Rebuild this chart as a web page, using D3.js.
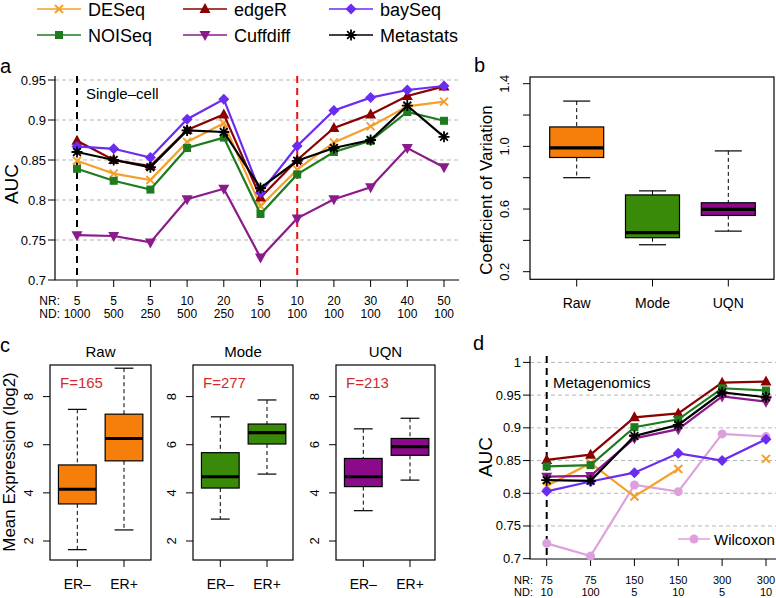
<!DOCTYPE html>
<html><head><meta charset="utf-8">
<script src="https://cdn.jsdelivr.net/npm/d3@7"></script>
<style>body{margin:0;background:#fff}</style>
</head><body><svg id="c" width="776" height="598"></svg>
<script>
// ---------- DATA ----------
const methods = ["DESeq","edgeR","baySeq","NOISeq","Cuffdiff","Metastats"];
const methodColors = ["#F5A02A","#8B0000","#6A2CF0","#1E7B1E","#8B1A8B","#000000"];
const methodShapes = ["cross","triangle","diamond","square","triangleDown","star"];

// panel a
const aNR = ["5","5","5","10","20","5","10","20","30","40","50"];
const aND = ["1000","500","250","500","250","100","100","100","100","100","100"];
const aDESeq    = [0.849,0.833,0.825,0.8725,0.896,0.7925,0.838,0.872,0.892,0.917,0.923];
const aEdgeR    = [0.874,0.850,0.8425,0.8875,0.907,0.803,0.850,0.890,0.907,0.930,0.942];
const aBaySeq   = [0.867,0.864,0.853,0.901,0.926,0.809,0.8675,0.912,0.928,0.9375,0.9425];
const aNOISeq   = [0.839,0.824,0.813,0.865,0.878,0.7825,0.832,0.860,0.874,0.910,0.899];
const aCuffdiff = [0.756,0.755,0.747,0.801,0.814,0.728,0.777,0.801,0.816,0.865,0.841];
const aMetastats= [0.860,0.850,0.841,0.887,0.885,0.815,0.849,0.865,0.875,0.918,0.879];
const aSeries = [aDESeq,aEdgeR,aBaySeq,aNOISeq,aCuffdiff,aMetastats];
const aYTicks = [0.7,0.75,0.8,0.85,0.9,0.95];
const aYLabels = ["0.7","0.75","0.8","0.85","0.9","0.95"];

// panel b  [lower whisker, Q1, median, Q3, upper whisker]
const bGroups = ["Raw","Mode","UQN"];
const bRaw  = [0.80,0.929,0.99,1.124,1.289];
const bMode = [0.372,0.417,0.449,0.690,0.716];
const bUQN  = [0.459,0.559,0.598,0.640,0.971];
const bStats = [bRaw,bMode,bUQN];
const boxColors = ["#F57F0A","#3A8A0A","#8A0A8A"];
const bYTicks = [0.2,0.4,0.6,0.8,1.0,1.2,1.4];
const bYLabels = ["0.2","","0.6","","1.0","","1.4"];

// panel c
const cPanels = ["Raw","Mode","UQN"];
const cF = ["F=165","F=277","F=213"];
const cGroups = ["ER\u2013","ER+"];
const cRawNeg  = [1.64,3.54,4.15,5.16,7.47], cRawPos  = [2.46,5.33,6.26,7.27,9.18];
const cModeNeg = [2.91,4.20,4.67,5.67,7.16], cModePos = [4.78,6.03,6.50,6.86,7.86];
const cUQNNeg  = [3.26,4.26,4.67,5.43,6.66], cUQNPos  = [4.53,5.56,5.92,6.26,7.10];
const cStats = [[cRawNeg,cRawPos],[cModeNeg,cModePos],[cUQNNeg,cUQNPos]];
const cYTicks = [2,4,6,8];

// panel d
const dNR = ["75","75","150","150","300","300"];
const dND = ["10","100","5","10","5","10"];
const dDESeq    = [0.811,0.846,0.795,0.837,null,0.8525];
const dEdgeR    = [0.851,0.859,0.916,0.922,0.969,0.9707];
const dBaySeq   = [0.803,0.818,0.8315,0.861,0.850,0.8826];
const dNOISeq   = [0.841,0.843,0.901,0.913,0.9605,0.957];
const dCuffdiff = [0.8254,0.8265,0.884,0.898,0.948,0.940];
const dMetastats= [0.820,0.819,0.8876,0.9045,0.954,0.9468];
const dWilcoxon = [0.7235,0.704,0.8127,0.8025,0.8907,0.8866];
const dSeries = [dDESeq,dEdgeR,dBaySeq,dNOISeq,dCuffdiff,dMetastats];
const dYTicks = [0.7,0.75,0.8,0.85,0.9,0.95,1.0];
const dYLabels = ["0.7","0.75","0.8","0.85","0.9","0.95","1"];
const wilcoxColor = "#DDA0DD";

// ---------- DRAW ----------
const FONT = "'Liberation Sans', Arial, Helvetica, sans-serif";
const svg = d3.select("#c").attr("font-family", FONT);
svg.append("rect").attr("width",776).attr("height",598).attr("fill","#fff");

function marker(g, shape, x, y, color) {
  const s = 5.5;
  if (shape === "cross") {
    g.append("path").attr("d",`M${x-4},${y-4}L${x+4},${y+4}M${x-4},${y+4}L${x+4},${y-4}`)
      .attr("stroke",color).attr("stroke-width",2).attr("fill","none");
  } else if (shape === "triangle") {
    g.append("path").attr("d",`M${x},${y-s-0.5}L${x+s},${y+4}L${x-s},${y+4}Z`).attr("fill",color);
  } else if (shape === "triangleDown") {
    g.append("path").attr("d",`M${x},${y+s+0.5}L${x+s},${y-4}L${x-s},${y-4}Z`).attr("fill",color);
  } else if (shape === "diamond") {
    g.append("path").attr("d",`M${x},${y-s}L${x+s},${y}L${x},${y+s}L${x-s},${y}Z`).attr("fill",color);
  } else if (shape === "square") {
    g.append("rect").attr("x",x-4).attr("y",y-4).attr("width",8).attr("height",8).attr("fill",color);
  } else if (shape === "star") {
    const r = 5.5, d = r*0.7071;
    g.append("path").attr("d",`M${x-r},${y}L${x+r},${y}M${x},${y-r}L${x},${y+r}M${x-d},${y-d}L${x+d},${y+d}M${x-d},${y+d}L${x+d},${y-d}`)
      .attr("stroke",color).attr("stroke-width",1.8).attr("fill","none");
  } else if (shape === "circle") {
    g.append("circle").attr("cx",x).attr("cy",y).attr("r",4.5).attr("fill",color);
  }
}

// Legend
methods.forEach((m,i) => {
  const col = i % 3, row = Math.floor(i/3);
  const x0 = [37,183,329][col], y0 = [9,35][row];
  const g = svg.append("g");
  g.append("line").attr("x1",x0).attr("x2",x0+44).attr("y1",y0).attr("y2",y0)
    .attr("stroke",methodColors[i]).attr("stroke-width",1.5);
  marker(g, methodShapes[i], x0+22, y0, methodColors[i]);
  g.append("text").attr("x",x0+51).attr("y",y0+7).attr("font-size",18).text(m);
});

function yTicksLeft(g, scale, vals, labels, axisX, fs, rotated, rotX) {
  vals.forEach((v,i) => {
    g.append("line").attr("x1",axisX-7).attr("x2",axisX).attr("y1",scale(v)).attr("y2",scale(v))
      .attr("stroke","#000").attr("stroke-width",1);
    if (!labels[i]) return;
    if (rotated) {
      g.append("text").attr("transform",`translate(${rotX},${scale(v)}) rotate(-90)`)
        .attr("text-anchor","middle").attr("font-size",fs).text(labels[i]);
    } else {
      g.append("text").attr("x",axisX-9).attr("y",scale(v)+4.5).attr("text-anchor","end")
        .attr("font-size",fs).text(labels[i]);
    }
  });
}

const lineW = 2.2;

// ---------- Panel a ----------
{
  const g = svg.append("g");
  const xA = d3.scaleLinear().domain([0,10]).range([77,444]);
  const yA = d3.scaleLinear().domain([0.7,0.95]).range([280,80]);
  aYTicks.slice(1).forEach(v => g.append("line").attr("x1",55).attr("x2",459)
    .attr("y1",yA(v)).attr("y2",yA(v)).attr("stroke","#B5B5B5").attr("stroke-dasharray","4,3"));
  g.append("line").attr("x1",xA(0)).attr("x2",xA(0)).attr("y1",76).attr("y2",280)
    .attr("stroke","#000").attr("stroke-width",2).attr("stroke-dasharray","7,5");
  g.append("line").attr("x1",xA(6)).attr("x2",xA(6)).attr("y1",76).attr("y2",280)
    .attr("stroke","#EE1111").attr("stroke-width",2).attr("stroke-dasharray","7,5");
  g.append("path").attr("d","M55,76V280H459").attr("fill","none").attr("stroke","#000").attr("stroke-width",1.2);
  yTicksLeft(g, yA, aYTicks, aYLabels, 55, 13, false);
  aNR.forEach((t,i) => {
    g.append("line").attr("x1",xA(i)).attr("x2",xA(i)).attr("y1",280).attr("y2",287).attr("stroke","#000");
    g.append("text").attr("x",xA(i)).attr("y",304.5).attr("text-anchor","middle").attr("font-size",12).text(t);
    g.append("text").attr("x",xA(i)).attr("y",317.5).attr("text-anchor","middle").attr("font-size",12).text(aND[i]);
  });
  g.append("text").attr("x",60).attr("y",304.5).attr("text-anchor","end").attr("font-size",12).text("NR:");
  g.append("text").attr("x",60).attr("y",317.5).attr("text-anchor","end").attr("font-size",12).text("ND:");
  const line = d3.line().x((d,i)=>xA(i)).y(d=>yA(d));
  aSeries.forEach((s,k) => {
    g.append("path").attr("d",line(s)).attr("fill","none").attr("stroke",methodColors[k]).attr("stroke-width",lineW);
    s.forEach((v,i) => marker(g, methodShapes[k], xA(i), yA(v), methodColors[k]));
  });
  g.append("text").attr("x",86).attr("y",98.5).attr("font-size",15).text("Single\u2013cell");
  g.append("text").attr("transform","translate(18,184) rotate(-90)").attr("text-anchor","middle").attr("font-size",19).text("AUC");
  g.append("text").attr("x",0).attr("y",73).attr("font-size",20).text("a");
}

function boxplot(g, cx, st, scale, w, color) {
  const [lo,q1,med,q3,hi] = st;
  g.append("line").attr("x1",cx).attr("x2",cx).attr("y1",scale(hi)).attr("y2",scale(q3))
    .attr("stroke","#000").attr("stroke-dasharray","4,3");
  g.append("line").attr("x1",cx).attr("x2",cx).attr("y1",scale(q1)).attr("y2",scale(lo))
    .attr("stroke","#000").attr("stroke-dasharray","4,3");
  [lo,hi].forEach(v => g.append("line").attr("x1",cx-w/4).attr("x2",cx+w/4).attr("y1",scale(v)).attr("y2",scale(v))
    .attr("stroke","#000").attr("stroke-width",1.2));
  g.append("rect").attr("x",cx-w/2).attr("y",scale(q3)).attr("width",w).attr("height",scale(q1)-scale(q3))
    .attr("fill",color).attr("stroke","#000").attr("stroke-width",1.2);
  g.append("line").attr("x1",cx-w/2).attr("x2",cx+w/2).attr("y1",scale(med)).attr("y2",scale(med))
    .attr("stroke","#000").attr("stroke-width",3.2);
}

// ---------- Panel b ----------
{
  const g = svg.append("g");
  const xB = d3.scaleLinear().domain([0,2]).range([576.7,728.3]);
  const yB = d3.scaleLinear().domain([0.2,1.4]).range([271.7,83.7]);
  bStats.forEach((st,i) => boxplot(g, xB(i), st, yB, 54, boxColors[i]));
  g.append("rect").attr("x",530).attr("y",77).attr("width",244).attr("height",202.3)
    .attr("fill","none").attr("stroke","#000").attr("stroke-width",1.2);
  yTicksLeft(g, yB, bYTicks, bYLabels, 530, 13, true, 509);
  bGroups.forEach((t,i) => {
    g.append("line").attr("x1",xB(i)).attr("x2",xB(i)).attr("y1",279.3).attr("y2",286.5).attr("stroke","#000");
    g.append("text").attr("x",xB(i)).attr("y",307.5).attr("text-anchor","middle").attr("font-size",14).text(t);
  });
  g.append("text").attr("transform","translate(492,190) rotate(-90)").attr("text-anchor","middle").attr("font-size",17).text("Coefficient of Variation");
  g.append("text").attr("x",474).attr("y",72).attr("font-size",20).text("b");
}

// ---------- Panel c ----------
{
  const g = svg.append("g");
  const lefts = [50,193,336], rights = [151,293,435];
  const yC = d3.scaleLinear().domain([2,8]).range([541,396.6]);
  cPanels.forEach((p,k) => {
    const L = lefts[k], R = rights[k];
    const xC = d3.scaleLinear().domain([0,1]).range([L+27.3, L+74]);
    cStats[k].forEach((st,i) => boxplot(g, xC(i), st, yC, 37.7, boxColors[k]));
    g.append("rect").attr("x",L).attr("y",365).attr("width",R-L).attr("height",195)
      .attr("fill","none").attr("stroke","#000").attr("stroke-width",1.2);
    yTicksLeft(g, yC, cYTicks, cYTicks.map(String), L, 13, true, L-17);
    cGroups.forEach((t,i) => {
      g.append("line").attr("x1",xC(i)).attr("x2",xC(i)).attr("y1",560).attr("y2",567).attr("stroke","#000");
      g.append("text").attr("x",xC(i)).attr("y",589).attr("text-anchor","middle").attr("font-size",14).text(t);
    });
    g.append("text").attr("x",(L+R)/2).attr("y",357.3).attr("text-anchor","middle").attr("font-size",15).text(p);
    g.append("text").attr("x",L+10).attr("y",387.5).attr("font-size",15).attr("fill","#D42A2A").text(cF[k]);
  });
  g.append("text").attr("transform","translate(14.5,462) rotate(-90)").attr("text-anchor","middle").attr("font-size",17).text("Mean Expression (log2)");
  g.append("text").attr("x",0).attr("y",352).attr("font-size",20).text("c");
}

// ---------- Panel d ----------
{
  const g = svg.append("g");
  const xD = d3.scaleLinear().domain([0,5]).range([546.7,766]);
  const yD = d3.scaleLinear().domain([0.7,1.0]).range([558.7,362.4]);
  dYTicks.slice(1).forEach(v => g.append("line").attr("x1",530).attr("x2",776)
    .attr("y1",yD(v)).attr("y2",yD(v)).attr("stroke","#B5B5B5").attr("stroke-dasharray","4,3"));
  g.append("line").attr("x1",xD(0)).attr("x2",xD(0)).attr("y1",356).attr("y2",559)
    .attr("stroke","#000").attr("stroke-width",2).attr("stroke-dasharray","7,5");
  g.append("path").attr("d","M530,356V559H776").attr("fill","none").attr("stroke","#000").attr("stroke-width",1.2);
  yTicksLeft(g, yD, dYTicks, dYLabels, 530, 13, false);
  dNR.forEach((t,i) => {
    g.append("line").attr("x1",xD(i)).attr("x2",xD(i)).attr("y1",559).attr("y2",566).attr("stroke","#000");
    g.append("text").attr("x",xD(i)).attr("y",583.5).attr("text-anchor","middle").attr("font-size",11).text(t);
    g.append("text").attr("x",xD(i)).attr("y",595.5).attr("text-anchor","middle").attr("font-size",11).text(dND[i]);
  });
  g.append("text").attr("x",533).attr("y",583.5).attr("text-anchor","end").attr("font-size",11).text("NR:");
  g.append("text").attr("x",533).attr("y",595.5).attr("text-anchor","end").attr("font-size",11).text("ND:");
  const line = d3.line().defined(d => d != null).x((d,i)=>xD(i)).y(d=>yD(d));
  g.append("path").attr("d",line(dWilcoxon)).attr("fill","none").attr("stroke",wilcoxColor).attr("stroke-width",lineW);
  dWilcoxon.forEach((v,i) => marker(g,"circle",xD(i),yD(v),wilcoxColor));
  dSeries.forEach((s,k) => {
    g.append("path").attr("d",line(s)).attr("fill","none").attr("stroke",methodColors[k]).attr("stroke-width",lineW);
    s.forEach((v,i) => { if (v != null) marker(g, methodShapes[k], xD(i), yD(v), methodColors[k]); });
  });
  g.append("text").attr("x",553).attr("y",388.3).attr("font-size",15).text("Metagenomics");
  g.append("line").attr("x1",678).attr("x2",710).attr("y1",539).attr("y2",539).attr("stroke",wilcoxColor).attr("stroke-width",1.5);
  marker(g,"circle",694,539,wilcoxColor);
  g.append("text").attr("x",714).attr("y",544.5).attr("font-size",15).text("Wilcoxon");
  g.append("text").attr("transform","translate(492,457) rotate(-90)").attr("text-anchor","middle").attr("font-size",19).text("AUC");
  g.append("text").attr("x",473).attr("y",350).attr("font-size",20).text("d");
}
</script></body></html>
